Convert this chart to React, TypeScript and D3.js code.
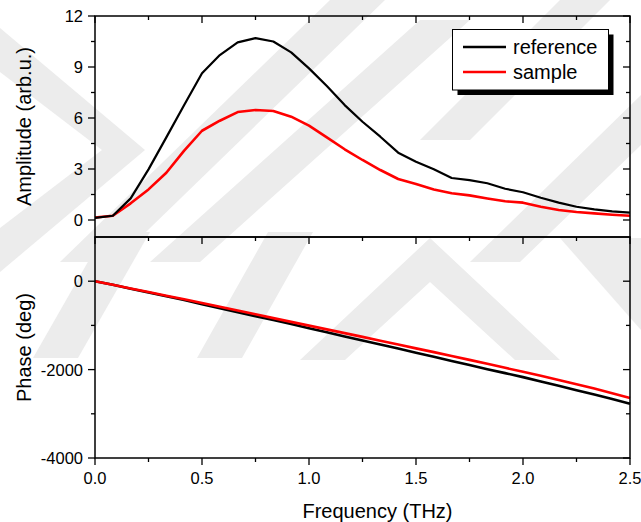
import React from "react";
import * as d3 from "d3";

const freq = [0, 0.0833, 0.1667, 0.25, 0.3333, 0.4167, 0.5, 0.5833, 0.6667, 0.75, 0.8333, 0.9167, 1.0, 1.0833, 1.1667, 1.25, 1.3333, 1.4167, 1.5, 1.5833, 1.6667, 1.75, 1.8333, 1.9167, 2.0, 2.0833, 2.1667, 2.25, 2.3333, 2.4167, 2.5];

const ampReference = [0.12, 0.25, 1.27, 2.98, 4.86, 6.76, 8.63, 9.7, 10.45, 10.7, 10.5, 9.86, 8.92, 7.88, 6.76, 5.78, 4.9, 3.96, 3.43, 2.98, 2.47, 2.35, 2.16, 1.84, 1.63, 1.31, 1.02, 0.78, 0.63, 0.51, 0.43];
const ampSample = [0.15, 0.25, 0.98, 1.8, 2.78, 4.08, 5.25, 5.84, 6.35, 6.47, 6.41, 6.08, 5.55, 4.86, 4.16, 3.53, 2.94, 2.41, 2.12, 1.8, 1.57, 1.45, 1.27, 1.1, 1.02, 0.78, 0.59, 0.47, 0.39, 0.31, 0.25];

const phaseReference = [0, -80, -170, -255, -340, -425, -520, -610, -700, -790, -880, -970, -1065, -1155, -1250, -1340, -1430, -1525, -1620, -1710, -1805, -1895, -1990, -2080, -2170, -2270, -2365, -2465, -2565, -2665, -2770];
const phaseSample = [0, -80, -165, -245, -330, -410, -495, -580, -665, -750, -835, -920, -1005, -1090, -1175, -1260, -1345, -1430, -1520, -1605, -1690, -1780, -1870, -1960, -2050, -2140, -2235, -2330, -2430, -2535, -2640];

const xMajor = [0, 0.5, 1.0, 1.5, 2.0, 2.5];
const xMinor = [0.25, 0.75, 1.25, 1.75, 2.25];
const ampMajor = [0, 3, 6, 9, 12];
const ampMinor = [1.5, 4.5, 7.5, 10.5];
const phaseMajor = [-4000, -2000, 0];
const phaseMinor = [-3000, -1000];

const seriesNames = ["reference", "sample"];
const seriesColors = ["#000000", "#ff0000"];

// decorative background watermark (light gray)
const watermark: [number, number][][] = [
  [[0, 28], [145, 150], [0, 272], [0, 228], [102, 150], [0, 72]],
  [[60, 262], [330, 0], [385, 0], [115, 262]],
  [[150, 262], [420, 20], [470, 20], [200, 262]],
  [[420, 140], [560, 0], [610, 0], [470, 140]],
  [[470, 262], [641, 95], [641, 145], [520, 262]],
  [[33, 358], [105, 232], [150, 232], [78, 358]],
  [[197, 358], [268, 232], [313, 232], [242, 358]],
  [[300, 360], [430, 238], [560, 360], [515, 360], [430, 282], [345, 360]],
  [[560, 238], [641, 238], [641, 330]],
];

const FONT = "'Liberation Sans', Arial, sans-serif";

export default function App() {
  const L = 95, R = 630, T = 16, M = 237, B = 458;
  const x = d3.scaleLinear().domain([0, 2.5]).range([L, R]);
  const yA = d3.scaleLinear().domain([-1, 12]).range([M, T]);
  const yP = d3.scaleLinear().domain([-4000, 1000]).range([B, M]);

  const lineA = (vals: number[]) =>
    d3.line<number>().x((_, i) => x(freq[i])).y((d) => yA(d))(vals) || "";
  const lineP = (vals: number[]) =>
    d3.line<number>().x((_, i) => x(freq[i])).y((d) => yP(d))(vals) || "";

  const maj = 7, min = 4;
  const tickStroke = { stroke: "#000", strokeWidth: 1.3 };

  return (
    <svg width={641} height={522} style={{ position: "absolute", left: 0, top: 0, background: "#fff" }} fontFamily={FONT}>
      <g fill="#ececec">
        {watermark.map((p, i) => (
          <polygon key={i} points={p.map((q) => q.join(",")).join(" ")} />
        ))}
      </g>

      {/* curves */}
      <g fill="none" strokeLinejoin="round">
        <path d={lineA(ampSample)} stroke={seriesColors[1]} strokeWidth={2.6} />
        <path d={lineA(ampReference)} stroke={seriesColors[0]} strokeWidth={2.2} />
        <path d={lineP(phaseReference)} stroke={seriesColors[0]} strokeWidth={2.6} />
        <path d={lineP(phaseSample)} stroke={seriesColors[1]} strokeWidth={2.6} />
      </g>

      {/* frames */}
      <g fill="none" stroke="#000" strokeWidth={1.5}>
        <rect x={L} y={T} width={R - L} height={M - T} />
        <rect x={L} y={M} width={R - L} height={B - M} />
      </g>

      {/* top panel ticks */}
      <g {...tickStroke}>
        {ampMajor.map((v) => (
          <g key={"am" + v}>
            <line x1={L - maj} x2={L} y1={yA(v)} y2={yA(v)} />
            <line x1={R - maj} x2={R} y1={yA(v)} y2={yA(v)} />
          </g>
        ))}
        {ampMinor.map((v) => (
          <g key={"an" + v}>
            <line x1={L - min} x2={L} y1={yA(v)} y2={yA(v)} />
            <line x1={R - min} x2={R} y1={yA(v)} y2={yA(v)} />
          </g>
        ))}
        {xMajor.map((v) => (
          <g key={"xm" + v}>
            <line x1={x(v)} x2={x(v)} y1={T} y2={T + maj} />
            <line x1={x(v)} x2={x(v)} y1={M} y2={M + maj} />
            <line x1={x(v)} x2={x(v)} y1={B} y2={B + maj} />
          </g>
        ))}
        {xMinor.map((v) => (
          <g key={"xn" + v}>
            <line x1={x(v)} x2={x(v)} y1={T} y2={T + min} />
            <line x1={x(v)} x2={x(v)} y1={M} y2={M + min} />
            <line x1={x(v)} x2={x(v)} y1={B} y2={B + min} />
          </g>
        ))}
        {phaseMajor.map((v) => (
          <g key={"pm" + v}>
            <line x1={L - maj} x2={L} y1={yP(v)} y2={yP(v)} />
            <line x1={R - maj} x2={R} y1={yP(v)} y2={yP(v)} />
          </g>
        ))}
        {phaseMinor.map((v) => (
          <g key={"pn" + v}>
            <line x1={L - min} x2={L} y1={yP(v)} y2={yP(v)} />
            <line x1={R - min} x2={R} y1={yP(v)} y2={yP(v)} />
          </g>
        ))}
      </g>

      {/* tick labels */}
      <g fontSize={16.5} fill="#000">
        {ampMajor.map((v) => (
          <text key={"al" + v} x={L - 12} y={yA(v)} textAnchor="end" dominantBaseline="central">{v}</text>
        ))}
        {phaseMajor.map((v) => (
          <text key={"pl" + v} x={L - 12} y={yP(v)} textAnchor="end" dominantBaseline="central">{v}</text>
        ))}
        {xMajor.map((v) => (
          <text key={"xl" + v} x={x(v)} y={484} textAnchor="middle">{v.toFixed(1)}</text>
        ))}
      </g>

      {/* axis titles */}
      <g fontSize={20} fill="#000">
        <text x={(L + R) / 2 + 15} y={518} textAnchor="middle">Frequency (THz)</text>
        <text transform={`translate(31,${(T + M) / 2}) rotate(-90)`} textAnchor="middle">Amplitude (arb.u.)</text>
        <text transform={`translate(31,${yP(-1500)}) rotate(-90)`} textAnchor="middle">Phase (deg)</text>
      </g>

      {/* legend */}
      <g>
        <rect x={457.5} y={34.5} width={156} height={60.5} fill="#000" />
        <rect x={452.5} y={29.5} width={156} height={60.5} fill="#fff" stroke="#000" strokeWidth={1} />
        {seriesNames.map((n, i) => (
          <g key={n}>
            <line x1={463} x2={506} y1={47 + i * 25} y2={47 + i * 25} stroke={seriesColors[i]} strokeWidth={2.6} />
            <text x={513} y={47 + i * 25} dominantBaseline="central" fontSize={20} fill="#000">{n}</text>
          </g>
        ))}
      </g>
    </svg>
  );
}
